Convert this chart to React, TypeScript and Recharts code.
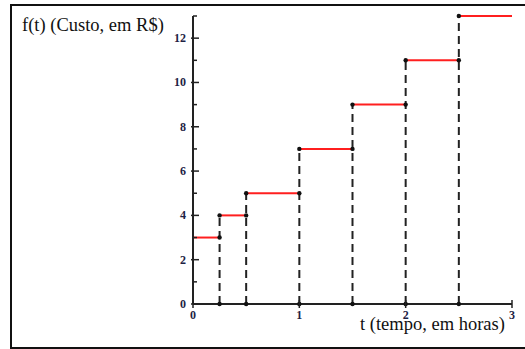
import { ComposedChart, Line, Scatter, XAxis, YAxis } from 'recharts';

// f(t): cost in R$ as a step function of time in hours
const stepTimes = [0, 0.25, 0.5, 1, 1.5, 2, 2.5, 3];
const stepCosts = [3, 4, 5, 7, 9, 11, 13];
const xTicks = [0, 1, 2, 3];
const yTicks = [0, 1, 2, 3, 4, 5, 6, 7, 8, 9, 10, 11, 12, 13];

const segments = stepCosts.map((c, i) => [
  { t: stepTimes[i], f: c },
  { t: stepTimes[i + 1], f: c },
]);

const jumps = stepTimes.slice(1, -1).map((t, i) => [
  { t, f: 0 },
  { t, f: stepCosts[i + 1] },
]);

const corners = stepTimes.slice(1, -1).flatMap((t, i) => [
  { t, f: 0 },
  { t, f: stepCosts[i] },
  { t, f: stepCosts[i + 1] },
]);

const AXIS = '#222';
const LABEL = '#1e2244';
const SERIF = '"Liberation Serif", "Times New Roman", serif';

function YTick(props: any) {
  const { x, y, payload } = props;
  const major = payload.value % 2 === 0;
  return (
    <g>
      <line x1={major ? x - 2 : x} x2={x + (major ? 6 : 4)} y1={y} y2={y} stroke={AXIS} strokeWidth={1.5} />
      {major && (
        <text x={x - 7} y={y + 4} textAnchor="end" fontFamily={SERIF} fontSize={12} fontWeight="bold" fill={LABEL}>
          {payload.value}
        </text>
      )}
    </g>
  );
}

function XTick(props: any) {
  const { x, y, payload } = props;
  return (
    <g>
      <line x1={x} x2={x} y1={y - 4} y2={y + 4} stroke={AXIS} strokeWidth={1.5} />
      <text x={x} y={y + 15} textAnchor="middle" fontFamily={SERIF} fontSize={12} fontWeight="bold" fill={LABEL}>
        {payload.value}
      </text>
    </g>
  );
}

const Dot = (props: any) => <circle cx={props.cx} cy={props.cy} r={2.2} fill="#111" />;

export default function App() {
  return (
    <div style={{ position: 'absolute', left: 0, top: 0, width: 525, height: 349, background: '#fff' }}>
      <div
        style={{
          position: 'absolute',
          left: 10,
          top: 4,
          width: 540,
          height: 345,
          boxSizing: 'border-box',
          borderTop: '2px solid #111',
          borderLeft: '2px solid #111',
          borderBottom: '2px solid #111',
        }}
      />
      <ComposedChart
        width={525}
        height={349}
        margin={{ top: 16, right: 13, bottom: 44, left: 192 }}
        style={{ position: 'absolute', left: 0, top: 0 }}
      >
        <XAxis
          type="number"
          dataKey="t"
          domain={[0, 3]}
          ticks={xTicks}
          interval={0}
          height={1}
          tickSize={0}
          tickMargin={0}
          tick={XTick}
          axisLine={{ stroke: AXIS, strokeWidth: 2 }}
        />
        <YAxis
          type="number"
          dataKey="f"
          domain={[0, 13]}
          ticks={yTicks}
          interval={0}
          width={1}
          tickSize={0}
          tickMargin={0}
          tick={YTick}
          axisLine={{ stroke: AXIS, strokeWidth: 2 }}
        />
        {jumps.map((d, i) => (
          <Line
            key={`j${i}`}
            data={d}
            dataKey="f"
            stroke={AXIS}
            strokeWidth={2}
            strokeDasharray="8 5"
            dot={false}
            isAnimationActive={false}
          />
        ))}
        {segments.map((d, i) => (
          <Line
            key={`s${i}`}
            data={d}
            dataKey="f"
            stroke="#ff1f1f"
            strokeWidth={2}
            dot={false}
            isAnimationActive={false}
          />
        ))}
        <Scatter data={corners} dataKey="f" shape={Dot} isAnimationActive={false} />
      </ComposedChart>
      <svg width={525} height={349} style={{ position: 'absolute', left: 0, top: 0, pointerEvents: 'none' }}>
        <text x={22} y={31} fontFamily={SERIF} fontSize={18.5} fill="#111">
          f(t) (Custo, em R$)
        </text>
        <text x={360} y={330} fontFamily={SERIF} fontSize={18.5} fill="#111">
          t (tempo, em horas)
        </text>
      </svg>
    </div>
  );
}
